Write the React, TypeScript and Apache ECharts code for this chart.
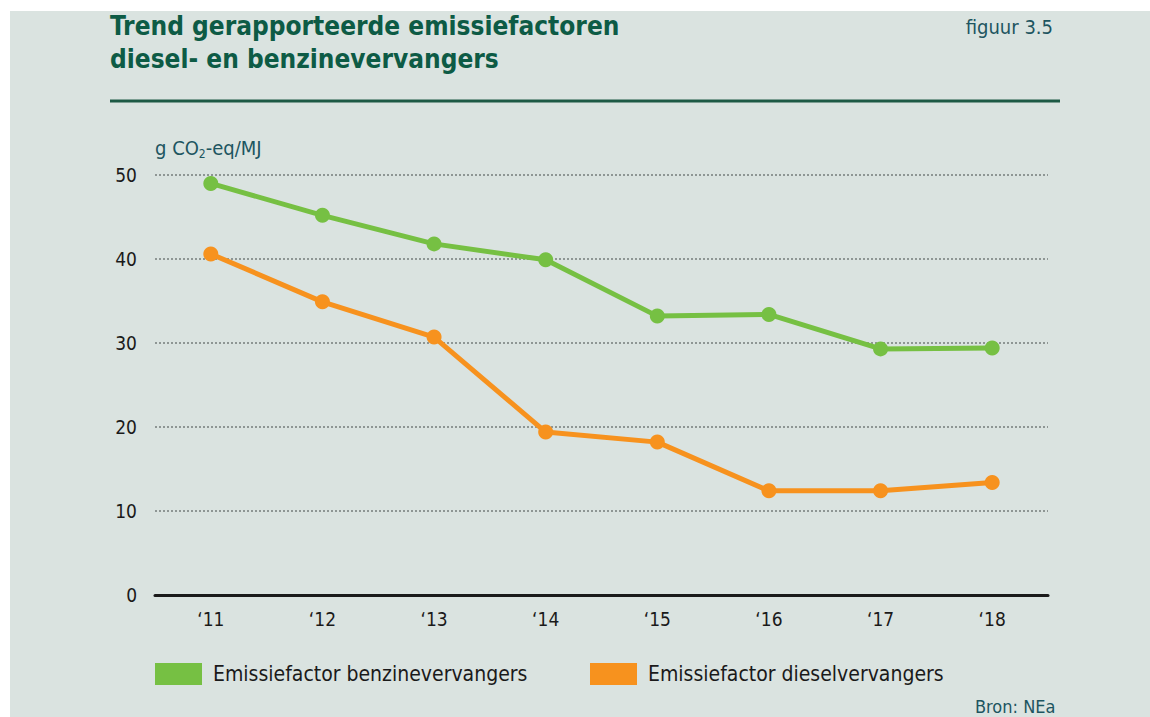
import React, { useEffect, useRef } from "react";
import * as echarts from "echarts";

const categories = ["‘11", "‘12", "‘13", "‘14", "‘15", "‘16", "‘17", "‘18"];
const benzine = [49.0, 45.2, 41.8, 39.9, 33.2, 33.4, 29.3, 29.4];
const diesel = [40.6, 34.9, 30.7, 19.4, 18.2, 12.4, 12.4, 13.4];
const seriesNames = ["Emissiefactor benzinevervangers", "Emissiefactor dieselvervangers"];
const titleLines = ["Trend gerapporteerde emissiefactoren", "diesel- en benzinevervangers"];

const GREEN = "#76c043";
const ORANGE = "#f7921e";
const DARK = "#0d5b45";
const BG = "#dae3e0";
const FONT = "'Liberation Sans Narrow', 'DejaVu Sans Condensed', 'Noto Sans', sans-serif";

export default function App() {
  const ref = useRef<HTMLDivElement>(null);
  useEffect(() => {
    document.body.style.margin = "0";
    const chart = echarts.init(ref.current!, null, { renderer: "svg" });
    const legendText = { fontSize: 21, color: "#1a1a1a", fontFamily: FONT, padding: [0, 0, 0, 6] };
    chart.setOption({
      animation: false,
      backgroundColor: "#ffffff",
      textStyle: { fontFamily: FONT },
      title: {
        text: titleLines.join("\n"),
        left: 110,
        top: 9,
        padding: 0,
        textStyle: { fontSize: 26, lineHeight: 33, fontWeight: "bold", color: DARK, fontFamily: FONT },
      },
      grid: { left: 155, right: 102, top: 175, bottom: 122, containLabel: false },
      xAxis: {
        type: "category",
        data: categories,
        boundaryGap: true,
        axisLine: { lineStyle: { color: "#1a1a1a", width: 3 } },
        axisTick: { show: false },
        axisLabel: { fontSize: 19, color: "#1a1a1a", margin: 14, fontFamily: FONT },
      },
      yAxis: {
        type: "value",
        min: 0,
        max: 50,
        interval: 10,
        axisLine: { show: false },
        axisTick: { show: false },
        axisLabel: { fontSize: 19, color: "#1a1a1a", margin: 18, fontFamily: FONT },
        splitLine: { lineStyle: { color: "#8e9694", width: 2, type: [2, 2] } },
      },
      legend: [
        {
          data: [seriesNames[0]],
          left: 155,
          top: 663,
          padding: 0,
          icon: "rect",
          itemWidth: 47,
          itemHeight: 22,
          textStyle: legendText,
        },
        {
          data: [seriesNames[1]],
          left: 590,
          top: 663,
          padding: 0,
          icon: "rect",
          itemWidth: 47,
          itemHeight: 22,
          textStyle: legendText,
        },
      ],
      graphic: [
        { type: "rect", z: -10, shape: { x: 10, y: 11, width: 1140, height: 706 }, style: { fill: BG } },
        { type: "line", shape: { x1: 110, y1: 101, x2: 1060, y2: 101 }, style: { stroke: "#1d5a45", lineWidth: 3 } },
        {
          type: "text",
          x: 1053,
          y: 27,
          style: { text: "figuur 3.5", align: "right", verticalAlign: "middle", fontSize: 20, fill: "#1d5560", fontFamily: FONT },
        },
        {
          type: "text",
          x: 155,
          y: 148,
          style: {
            text: "{a|g CO}{s|2}{a|-eq/MJ}",
            verticalAlign: "middle",
            fontFamily: FONT,
            rich: {
              a: { fontSize: 20, fill: "#1d5560", fontFamily: FONT },
              s: { fontSize: 12, fill: "#1d5560", fontFamily: FONT, padding: [12, 0, 0, 0] },
            },
          },
        },
        {
          type: "text",
          x: 975,
          y: 697,
          style: { text: "Bron: NEa", fontSize: 18, fill: "#1d5560", fontFamily: FONT },
        },
      ],
      series: [
        {
          name: seriesNames[0],
          type: "line",
          data: benzine,
          color: GREEN,
          lineStyle: { width: 5, color: GREEN },
          symbol: "circle",
          symbolSize: 15,
          itemStyle: { color: GREEN },
        },
        {
          name: seriesNames[1],
          type: "line",
          data: diesel,
          color: ORANGE,
          lineStyle: { width: 5, color: ORANGE },
          symbol: "circle",
          symbolSize: 15,
          itemStyle: { color: ORANGE },
        },
      ],
    });
    return () => chart.dispose();
  }, []);
  return <div ref={ref} style={{ position: "absolute", left: 0, top: 0, width: 1150, height: 717 }} />;
}
